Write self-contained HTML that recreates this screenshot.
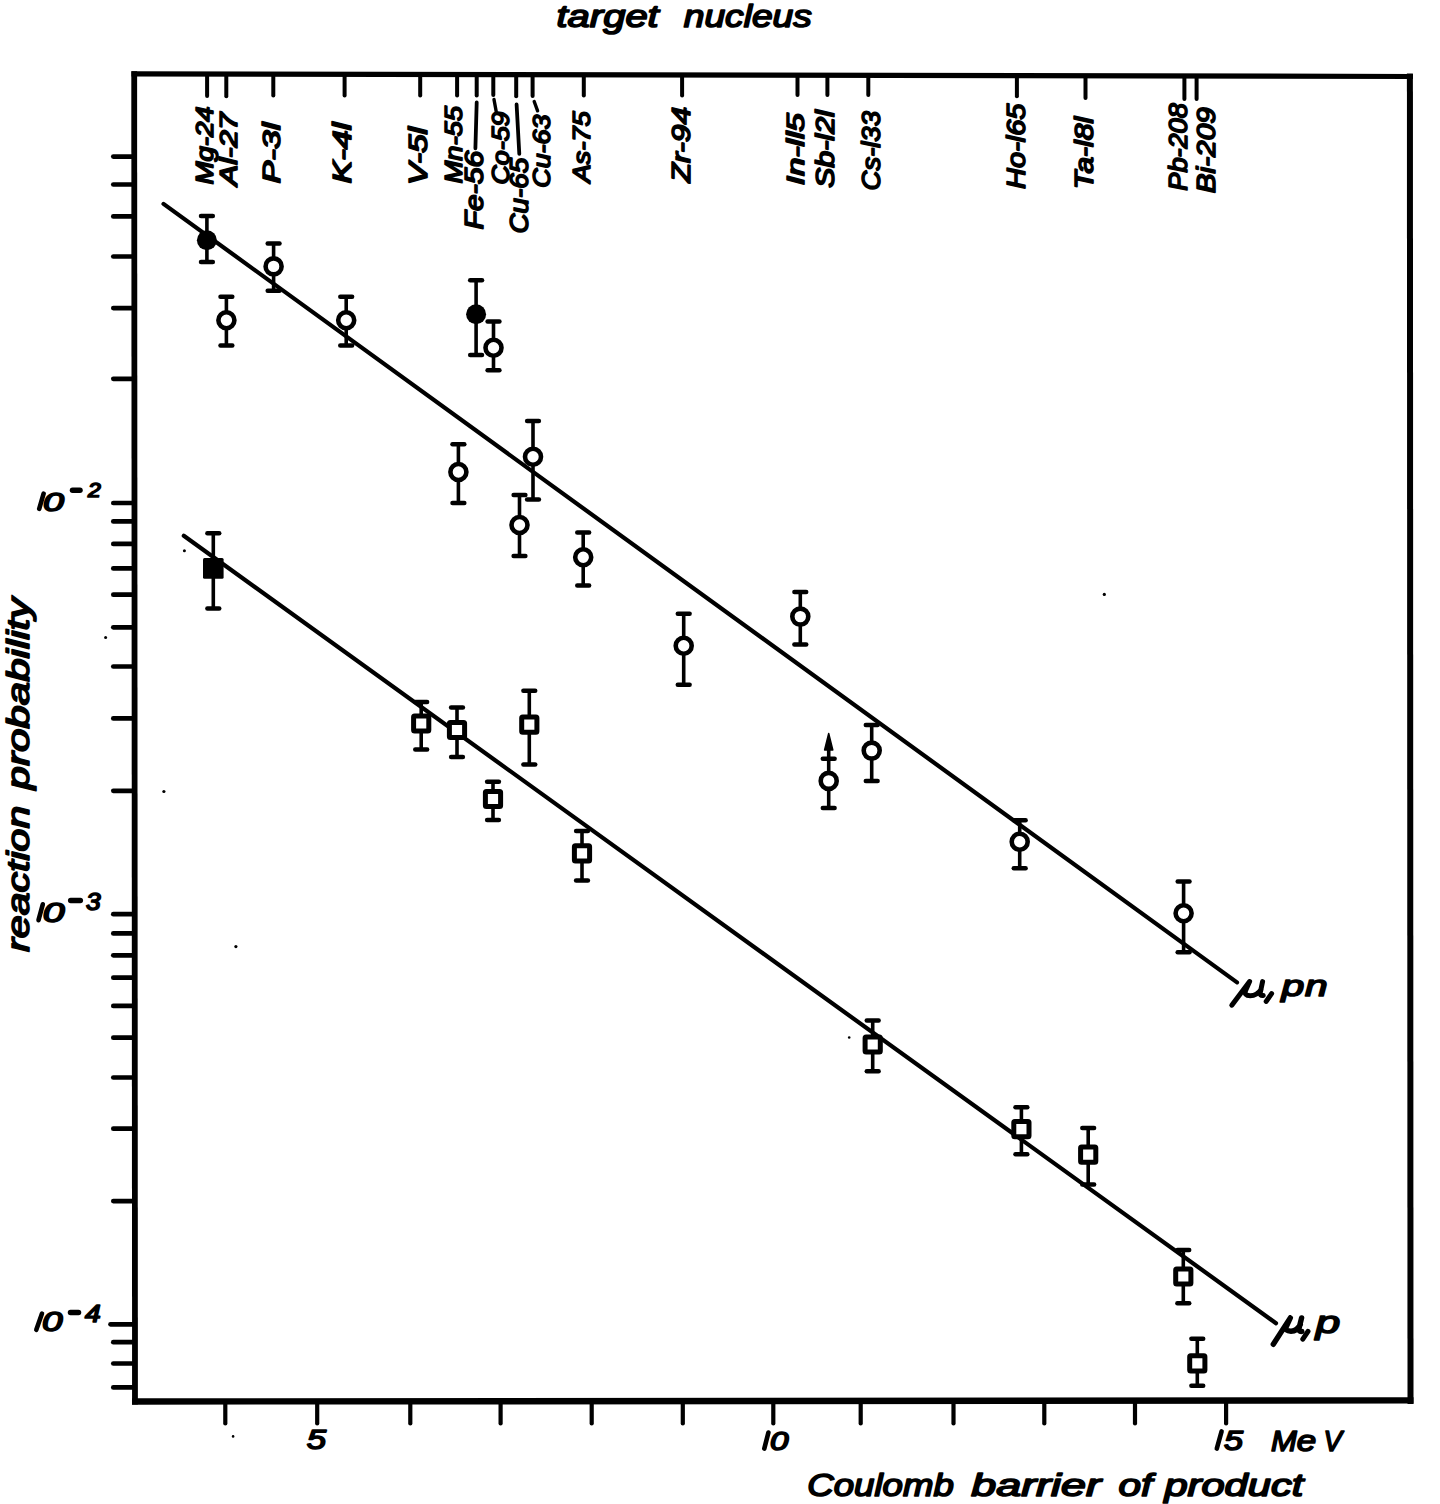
<!DOCTYPE html>
<html><head><meta charset="utf-8"><style>
html,body{margin:0;padding:0;background:#fff;}
svg{display:block;}
</style></head><body>
<svg width="1440" height="1504" viewBox="0 0 1440 1504">
<rect width="1440" height="1504" fill="#fff"/>
<line x1="131.5" y1="73.9" x2="1413" y2="76.5" stroke="#000" stroke-width="5.2"/>
<line x1="1409.9" y1="73.5" x2="1410.5" y2="1404" stroke="#000" stroke-width="6"/>
<line x1="132" y1="1401.5" x2="1413.5" y2="1400.4" stroke="#000" stroke-width="6.4"/>
<line x1="134.2" y1="71.2" x2="135" y2="1404.5" stroke="#000" stroke-width="5.8"/>
<line x1="113.3" y1="156.6" x2="134" y2="156.6" stroke="#000" stroke-width="4.7" stroke-linecap="round"/>
<line x1="113.3" y1="184.5" x2="134" y2="184.5" stroke="#000" stroke-width="4.7" stroke-linecap="round"/>
<line x1="113.3" y1="216.4" x2="134" y2="216.4" stroke="#000" stroke-width="4.7" stroke-linecap="round"/>
<line x1="113.3" y1="256.5" x2="134" y2="256.5" stroke="#000" stroke-width="4.7" stroke-linecap="round"/>
<line x1="113.3" y1="308.1" x2="134" y2="308.1" stroke="#000" stroke-width="4.7" stroke-linecap="round"/>
<line x1="113.3" y1="378.8" x2="134" y2="378.8" stroke="#000" stroke-width="4.7" stroke-linecap="round"/>
<line x1="113.3" y1="503.0" x2="134" y2="503.0" stroke="#000" stroke-width="4.7" stroke-linecap="round"/>
<line x1="113.3" y1="521.4" x2="134" y2="521.4" stroke="#000" stroke-width="4.7" stroke-linecap="round"/>
<line x1="113.3" y1="543.9" x2="134" y2="543.9" stroke="#000" stroke-width="4.7" stroke-linecap="round"/>
<line x1="113.3" y1="568.4" x2="134" y2="568.4" stroke="#000" stroke-width="4.7" stroke-linecap="round"/>
<line x1="113.3" y1="594.7" x2="134" y2="594.7" stroke="#000" stroke-width="4.7" stroke-linecap="round"/>
<line x1="113.3" y1="627.3" x2="134" y2="627.3" stroke="#000" stroke-width="4.7" stroke-linecap="round"/>
<line x1="113.3" y1="666.5" x2="134" y2="666.5" stroke="#000" stroke-width="4.7" stroke-linecap="round"/>
<line x1="113.3" y1="718.4" x2="134" y2="718.4" stroke="#000" stroke-width="4.7" stroke-linecap="round"/>
<line x1="113.3" y1="790.8" x2="134" y2="790.8" stroke="#000" stroke-width="4.7" stroke-linecap="round"/>
<line x1="113.3" y1="914.2" x2="134" y2="914.2" stroke="#000" stroke-width="4.7" stroke-linecap="round"/>
<line x1="113.3" y1="933.4" x2="134" y2="933.4" stroke="#000" stroke-width="4.7" stroke-linecap="round"/>
<line x1="113.3" y1="955.3" x2="134" y2="955.3" stroke="#000" stroke-width="4.7" stroke-linecap="round"/>
<line x1="113.3" y1="977.7" x2="134" y2="977.7" stroke="#000" stroke-width="4.7" stroke-linecap="round"/>
<line x1="113.3" y1="1005.9" x2="134" y2="1005.9" stroke="#000" stroke-width="4.7" stroke-linecap="round"/>
<line x1="113.3" y1="1037.7" x2="134" y2="1037.7" stroke="#000" stroke-width="4.7" stroke-linecap="round"/>
<line x1="113.3" y1="1077.5" x2="134" y2="1077.5" stroke="#000" stroke-width="4.7" stroke-linecap="round"/>
<line x1="113.3" y1="1128.7" x2="134" y2="1128.7" stroke="#000" stroke-width="4.7" stroke-linecap="round"/>
<line x1="113.3" y1="1201.1" x2="134" y2="1201.1" stroke="#000" stroke-width="4.7" stroke-linecap="round"/>
<line x1="110.5" y1="1324.3" x2="134" y2="1324.3" stroke="#000" stroke-width="4.7" stroke-linecap="round"/>
<line x1="113.3" y1="1342.2" x2="134" y2="1342.2" stroke="#000" stroke-width="4.7" stroke-linecap="round"/>
<line x1="113.3" y1="1363.5" x2="134" y2="1363.5" stroke="#000" stroke-width="4.7" stroke-linecap="round"/>
<line x1="113.3" y1="1387.4" x2="134" y2="1387.4" stroke="#000" stroke-width="4.7" stroke-linecap="round"/>
<line x1="225.3" y1="1402" x2="225.3" y2="1423.5" stroke="#000" stroke-width="4.2" stroke-linecap="round"/>
<line x1="317.2" y1="1402" x2="317.2" y2="1423.5" stroke="#000" stroke-width="4.2" stroke-linecap="round"/>
<line x1="410.3" y1="1402" x2="410.3" y2="1423.5" stroke="#000" stroke-width="4.2" stroke-linecap="round"/>
<line x1="500.6" y1="1402" x2="500.6" y2="1423.5" stroke="#000" stroke-width="4.2" stroke-linecap="round"/>
<line x1="591.7" y1="1402" x2="591.7" y2="1423.5" stroke="#000" stroke-width="4.2" stroke-linecap="round"/>
<line x1="682.8" y1="1402" x2="682.8" y2="1423.5" stroke="#000" stroke-width="4.2" stroke-linecap="round"/>
<line x1="773.3" y1="1402" x2="773.3" y2="1423.5" stroke="#000" stroke-width="4.2" stroke-linecap="round"/>
<line x1="860.7" y1="1402" x2="860.7" y2="1423.5" stroke="#000" stroke-width="4.2" stroke-linecap="round"/>
<line x1="953.5" y1="1402" x2="953.5" y2="1423.5" stroke="#000" stroke-width="4.2" stroke-linecap="round"/>
<line x1="1044.3" y1="1402" x2="1044.3" y2="1423.5" stroke="#000" stroke-width="4.2" stroke-linecap="round"/>
<line x1="1135.0" y1="1402" x2="1135.0" y2="1423.5" stroke="#000" stroke-width="4.2" stroke-linecap="round"/>
<line x1="1226.1" y1="1402" x2="1226.1" y2="1423.5" stroke="#000" stroke-width="4.2" stroke-linecap="round"/>
<line x1="207.1" y1="76" x2="207.1" y2="96.0" stroke="#000" stroke-width="4" stroke-linecap="round"/>
<line x1="226.3" y1="76" x2="226.3" y2="96.3" stroke="#000" stroke-width="4" stroke-linecap="round"/>
<line x1="273.3" y1="76" x2="273.3" y2="95.5" stroke="#000" stroke-width="4" stroke-linecap="round"/>
<line x1="344.6" y1="76" x2="344.6" y2="95.5" stroke="#000" stroke-width="4" stroke-linecap="round"/>
<line x1="420.2" y1="76" x2="420.2" y2="95.5" stroke="#000" stroke-width="4" stroke-linecap="round"/>
<line x1="457.1" y1="76" x2="457.1" y2="95.5" stroke="#000" stroke-width="4" stroke-linecap="round"/>
<line x1="476.7" y1="76" x2="476.7" y2="95.6" stroke="#000" stroke-width="4" stroke-linecap="round"/>
<line x1="493.3" y1="76" x2="493.3" y2="94.9" stroke="#000" stroke-width="4" stroke-linecap="round"/>
<line x1="516.2" y1="76" x2="516.2" y2="96.3" stroke="#000" stroke-width="4" stroke-linecap="round"/>
<line x1="532.6" y1="76" x2="532.6" y2="95.9" stroke="#000" stroke-width="4" stroke-linecap="round"/>
<line x1="583.8" y1="76" x2="583.8" y2="95.5" stroke="#000" stroke-width="4" stroke-linecap="round"/>
<line x1="682.1" y1="76" x2="682.1" y2="95.5" stroke="#000" stroke-width="4" stroke-linecap="round"/>
<line x1="797.5" y1="76" x2="797.5" y2="95.0" stroke="#000" stroke-width="4" stroke-linecap="round"/>
<line x1="827.4" y1="76" x2="827.4" y2="95.0" stroke="#000" stroke-width="4" stroke-linecap="round"/>
<line x1="868.3" y1="76" x2="868.3" y2="95.0" stroke="#000" stroke-width="4" stroke-linecap="round"/>
<line x1="1016.9" y1="76" x2="1016.9" y2="96.3" stroke="#000" stroke-width="4" stroke-linecap="round"/>
<line x1="1085.5" y1="76" x2="1085.5" y2="98.0" stroke="#000" stroke-width="4" stroke-linecap="round"/>
<line x1="1184.4" y1="76" x2="1184.4" y2="98.9" stroke="#000" stroke-width="4" stroke-linecap="round"/>
<line x1="1196.6" y1="76" x2="1196.6" y2="98.9" stroke="#000" stroke-width="4" stroke-linecap="round"/>
<line x1="476.7" y1="102.5" x2="475.4" y2="148.3" stroke="#000" stroke-width="3.8" stroke-linecap="round"/>
<line x1="516.6" y1="104.5" x2="519.3" y2="153.8" stroke="#000" stroke-width="3.8" stroke-linecap="round"/>
<line x1="494" y1="99.5" x2="496.2" y2="111.5" stroke="#000" stroke-width="3.4" stroke-linecap="round"/>
<line x1="534.2" y1="101.5" x2="537.6" y2="110.8" stroke="#000" stroke-width="3.4" stroke-linecap="round"/>
<line x1="163.5" y1="203.9" x2="1237" y2="982.4" stroke="#000" stroke-width="4.2" stroke-linecap="round"/>
<line x1="183.8" y1="535.8" x2="1276" y2="1323.2" stroke="#000" stroke-width="4.2" stroke-linecap="round"/>
<line x1="206.9" y1="216.0" x2="206.9" y2="262.0" stroke="#000" stroke-width="3.6" />
<line x1="201.0" y1="216.0" x2="212.8" y2="216.0" stroke="#000" stroke-width="4.5" stroke-linecap="round"/>
<line x1="201.0" y1="262.0" x2="212.8" y2="262.0" stroke="#000" stroke-width="4.5" stroke-linecap="round"/>
<circle cx="206.9" cy="240.3" r="10" fill="#000"/>
<line x1="226.4" y1="296.8" x2="226.4" y2="345.4" stroke="#000" stroke-width="3.6" />
<line x1="220.5" y1="296.8" x2="232.3" y2="296.8" stroke="#000" stroke-width="4.5" stroke-linecap="round"/>
<line x1="220.5" y1="345.4" x2="232.3" y2="345.4" stroke="#000" stroke-width="4.5" stroke-linecap="round"/>
<circle cx="226.4" cy="320.2" r="8" fill="#fff" stroke="#000" stroke-width="4.6"/>
<line x1="273.6" y1="243.5" x2="273.6" y2="290.7" stroke="#000" stroke-width="3.6" />
<line x1="267.7" y1="243.5" x2="279.5" y2="243.5" stroke="#000" stroke-width="4.5" stroke-linecap="round"/>
<line x1="267.7" y1="290.7" x2="279.5" y2="290.7" stroke="#000" stroke-width="4.5" stroke-linecap="round"/>
<circle cx="273.6" cy="266.4" r="8" fill="#fff" stroke="#000" stroke-width="4.6"/>
<line x1="346.2" y1="296.8" x2="346.2" y2="345.4" stroke="#000" stroke-width="3.6" />
<line x1="340.3" y1="296.8" x2="352.1" y2="296.8" stroke="#000" stroke-width="4.5" stroke-linecap="round"/>
<line x1="340.3" y1="345.4" x2="352.1" y2="345.4" stroke="#000" stroke-width="4.5" stroke-linecap="round"/>
<circle cx="346.2" cy="320.2" r="8" fill="#fff" stroke="#000" stroke-width="4.6"/>
<line x1="476.1" y1="280.3" x2="476.1" y2="354.9" stroke="#000" stroke-width="3.6" />
<line x1="470.2" y1="280.3" x2="482.0" y2="280.3" stroke="#000" stroke-width="4.5" stroke-linecap="round"/>
<line x1="470.2" y1="354.9" x2="482.0" y2="354.9" stroke="#000" stroke-width="4.5" stroke-linecap="round"/>
<circle cx="476.1" cy="314.3" r="10" fill="#000"/>
<line x1="493.5" y1="321.5" x2="493.5" y2="370.3" stroke="#000" stroke-width="3.6" />
<line x1="487.6" y1="321.5" x2="499.4" y2="321.5" stroke="#000" stroke-width="4.5" stroke-linecap="round"/>
<line x1="487.6" y1="370.3" x2="499.4" y2="370.3" stroke="#000" stroke-width="4.5" stroke-linecap="round"/>
<circle cx="493.5" cy="347.7" r="8" fill="#fff" stroke="#000" stroke-width="4.6"/>
<line x1="458.4" y1="444.2" x2="458.4" y2="503.0" stroke="#000" stroke-width="3.6" />
<line x1="452.5" y1="444.2" x2="464.3" y2="444.2" stroke="#000" stroke-width="4.5" stroke-linecap="round"/>
<line x1="452.5" y1="503.0" x2="464.3" y2="503.0" stroke="#000" stroke-width="4.5" stroke-linecap="round"/>
<circle cx="458.4" cy="472.0" r="8" fill="#fff" stroke="#000" stroke-width="4.6"/>
<line x1="533.0" y1="421.0" x2="533.0" y2="499.6" stroke="#000" stroke-width="3.6" />
<line x1="527.1" y1="421.0" x2="538.9" y2="421.0" stroke="#000" stroke-width="4.5" stroke-linecap="round"/>
<line x1="527.1" y1="499.6" x2="538.9" y2="499.6" stroke="#000" stroke-width="4.5" stroke-linecap="round"/>
<circle cx="533.0" cy="456.7" r="8" fill="#fff" stroke="#000" stroke-width="4.6"/>
<line x1="519.5" y1="495.1" x2="519.5" y2="556.1" stroke="#000" stroke-width="3.6" />
<line x1="513.6" y1="495.1" x2="525.4" y2="495.1" stroke="#000" stroke-width="4.5" stroke-linecap="round"/>
<line x1="513.6" y1="556.1" x2="525.4" y2="556.1" stroke="#000" stroke-width="4.5" stroke-linecap="round"/>
<circle cx="519.5" cy="525.0" r="8" fill="#fff" stroke="#000" stroke-width="4.6"/>
<line x1="583.2" y1="532.4" x2="583.2" y2="585.5" stroke="#000" stroke-width="3.6" />
<line x1="577.3" y1="532.4" x2="589.1" y2="532.4" stroke="#000" stroke-width="4.5" stroke-linecap="round"/>
<line x1="577.3" y1="585.5" x2="589.1" y2="585.5" stroke="#000" stroke-width="4.5" stroke-linecap="round"/>
<circle cx="583.2" cy="557.3" r="8" fill="#fff" stroke="#000" stroke-width="4.6"/>
<line x1="683.7" y1="613.7" x2="683.7" y2="684.7" stroke="#000" stroke-width="3.6" />
<line x1="677.8" y1="613.7" x2="689.6" y2="613.7" stroke="#000" stroke-width="4.5" stroke-linecap="round"/>
<line x1="677.8" y1="684.7" x2="689.6" y2="684.7" stroke="#000" stroke-width="4.5" stroke-linecap="round"/>
<circle cx="683.7" cy="645.8" r="8" fill="#fff" stroke="#000" stroke-width="4.6"/>
<line x1="800.3" y1="592.0" x2="800.3" y2="644.4" stroke="#000" stroke-width="3.6" />
<line x1="794.4" y1="592.0" x2="806.2" y2="592.0" stroke="#000" stroke-width="4.5" stroke-linecap="round"/>
<line x1="794.4" y1="644.4" x2="806.2" y2="644.4" stroke="#000" stroke-width="4.5" stroke-linecap="round"/>
<circle cx="800.3" cy="616.6" r="8" fill="#fff" stroke="#000" stroke-width="4.6"/>
<line x1="828.7" y1="758.7" x2="828.7" y2="808.0" stroke="#000" stroke-width="3.6" />
<line x1="822.8" y1="758.7" x2="834.6" y2="758.7" stroke="#000" stroke-width="4.5" stroke-linecap="round"/>
<line x1="822.8" y1="808.0" x2="834.6" y2="808.0" stroke="#000" stroke-width="4.5" stroke-linecap="round"/>
<circle cx="828.7" cy="780.9" r="8" fill="#fff" stroke="#000" stroke-width="4.6"/>
<line x1="871.7" y1="724.9" x2="871.7" y2="780.9" stroke="#000" stroke-width="3.6" />
<line x1="865.8" y1="724.9" x2="877.6" y2="724.9" stroke="#000" stroke-width="4.5" stroke-linecap="round"/>
<line x1="865.8" y1="780.9" x2="877.6" y2="780.9" stroke="#000" stroke-width="4.5" stroke-linecap="round"/>
<circle cx="871.7" cy="750.6" r="8" fill="#fff" stroke="#000" stroke-width="4.6"/>
<line x1="1019.7" y1="820.3" x2="1019.7" y2="868.3" stroke="#000" stroke-width="3.6" />
<line x1="1013.8" y1="820.3" x2="1025.6" y2="820.3" stroke="#000" stroke-width="4.5" stroke-linecap="round"/>
<line x1="1013.8" y1="868.3" x2="1025.6" y2="868.3" stroke="#000" stroke-width="4.5" stroke-linecap="round"/>
<circle cx="1019.7" cy="841.7" r="8" fill="#fff" stroke="#000" stroke-width="4.6"/>
<line x1="1183.6" y1="881.4" x2="1183.6" y2="952.2" stroke="#000" stroke-width="3.6" />
<line x1="1177.7" y1="881.4" x2="1189.5" y2="881.4" stroke="#000" stroke-width="4.5" stroke-linecap="round"/>
<line x1="1177.7" y1="952.2" x2="1189.5" y2="952.2" stroke="#000" stroke-width="4.5" stroke-linecap="round"/>
<circle cx="1183.6" cy="913.3" r="8" fill="#fff" stroke="#000" stroke-width="4.6"/>
<line x1="828.7" y1="758" x2="828.7" y2="746" stroke="#000" stroke-width="3.6"/>
<polygon points="828.7,733.5 824.6,750 832.8,750" fill="#000" stroke="#000" stroke-width="1.5" stroke-linejoin="round"/>
<line x1="213.3" y1="533.3" x2="213.3" y2="608.6" stroke="#000" stroke-width="3.6" />
<line x1="207.4" y1="533.3" x2="219.2" y2="533.3" stroke="#000" stroke-width="4.5" stroke-linecap="round"/>
<line x1="207.4" y1="608.6" x2="219.2" y2="608.6" stroke="#000" stroke-width="4.5" stroke-linecap="round"/>
<rect x="203.0" y="557.9" width="20.6" height="20.8" fill="#000" rx="1.5"/>
<line x1="421.2" y1="702.0" x2="421.2" y2="749.5" stroke="#000" stroke-width="3.6" />
<line x1="415.3" y1="702.0" x2="427.1" y2="702.0" stroke="#000" stroke-width="4.5" stroke-linecap="round"/>
<line x1="415.3" y1="749.5" x2="427.1" y2="749.5" stroke="#000" stroke-width="4.5" stroke-linecap="round"/>
<rect x="413.6" y="715.9" width="15.2" height="15.2" fill="#fff" stroke="#000" stroke-width="5" rx="1"/>
<line x1="457.0" y1="707.5" x2="457.0" y2="757.0" stroke="#000" stroke-width="3.6" />
<line x1="451.1" y1="707.5" x2="462.9" y2="707.5" stroke="#000" stroke-width="4.5" stroke-linecap="round"/>
<line x1="451.1" y1="757.0" x2="462.9" y2="757.0" stroke="#000" stroke-width="4.5" stroke-linecap="round"/>
<rect x="449.4" y="722.4" width="15.2" height="15.2" fill="#fff" stroke="#000" stroke-width="5" rx="1"/>
<line x1="493.0" y1="781.8" x2="493.0" y2="820.1" stroke="#000" stroke-width="3.6" />
<line x1="487.1" y1="781.8" x2="498.9" y2="781.8" stroke="#000" stroke-width="4.5" stroke-linecap="round"/>
<line x1="487.1" y1="820.1" x2="498.9" y2="820.1" stroke="#000" stroke-width="4.5" stroke-linecap="round"/>
<rect x="485.4" y="791.4" width="15.2" height="15.2" fill="#fff" stroke="#000" stroke-width="5" rx="1"/>
<line x1="529.3" y1="690.8" x2="529.3" y2="764.6" stroke="#000" stroke-width="3.6" />
<line x1="523.4" y1="690.8" x2="535.2" y2="690.8" stroke="#000" stroke-width="4.5" stroke-linecap="round"/>
<line x1="523.4" y1="764.6" x2="535.2" y2="764.6" stroke="#000" stroke-width="4.5" stroke-linecap="round"/>
<rect x="521.7" y="717.1" width="15.2" height="15.2" fill="#fff" stroke="#000" stroke-width="5" rx="1"/>
<line x1="582.0" y1="831.0" x2="582.0" y2="880.5" stroke="#000" stroke-width="3.6" />
<line x1="576.1" y1="831.0" x2="587.9" y2="831.0" stroke="#000" stroke-width="4.5" stroke-linecap="round"/>
<line x1="576.1" y1="880.5" x2="587.9" y2="880.5" stroke="#000" stroke-width="4.5" stroke-linecap="round"/>
<rect x="574.4" y="845.7" width="15.2" height="15.2" fill="#fff" stroke="#000" stroke-width="5" rx="1"/>
<line x1="872.7" y1="1020.4" x2="872.7" y2="1071.2" stroke="#000" stroke-width="3.6" />
<line x1="866.8" y1="1020.4" x2="878.6" y2="1020.4" stroke="#000" stroke-width="4.5" stroke-linecap="round"/>
<line x1="866.8" y1="1071.2" x2="878.6" y2="1071.2" stroke="#000" stroke-width="4.5" stroke-linecap="round"/>
<rect x="865.1" y="1036.9" width="15.2" height="15.2" fill="#fff" stroke="#000" stroke-width="5" rx="1"/>
<line x1="1021.4" y1="1107.3" x2="1021.4" y2="1154.2" stroke="#000" stroke-width="3.6" />
<line x1="1015.5" y1="1107.3" x2="1027.3" y2="1107.3" stroke="#000" stroke-width="4.5" stroke-linecap="round"/>
<line x1="1015.5" y1="1154.2" x2="1027.3" y2="1154.2" stroke="#000" stroke-width="4.5" stroke-linecap="round"/>
<rect x="1013.8" y="1121.6" width="15.2" height="15.2" fill="#fff" stroke="#000" stroke-width="5" rx="1"/>
<line x1="1088.2" y1="1128.1" x2="1088.2" y2="1184.4" stroke="#000" stroke-width="3.6" />
<line x1="1082.3" y1="1128.1" x2="1094.1" y2="1128.1" stroke="#000" stroke-width="4.5" stroke-linecap="round"/>
<line x1="1082.3" y1="1184.4" x2="1094.1" y2="1184.4" stroke="#000" stroke-width="4.5" stroke-linecap="round"/>
<rect x="1080.6" y="1147.1" width="15.2" height="15.2" fill="#fff" stroke="#000" stroke-width="5" rx="1"/>
<line x1="1183.3" y1="1250.0" x2="1183.3" y2="1303.3" stroke="#000" stroke-width="3.6" />
<line x1="1177.4" y1="1250.0" x2="1189.2" y2="1250.0" stroke="#000" stroke-width="4.5" stroke-linecap="round"/>
<line x1="1177.4" y1="1303.3" x2="1189.2" y2="1303.3" stroke="#000" stroke-width="4.5" stroke-linecap="round"/>
<rect x="1175.7" y="1268.9" width="15.2" height="15.2" fill="#fff" stroke="#000" stroke-width="5" rx="1"/>
<line x1="1197.3" y1="1338.7" x2="1197.3" y2="1385.8" stroke="#000" stroke-width="3.6" />
<line x1="1191.4" y1="1338.7" x2="1203.2" y2="1338.7" stroke="#000" stroke-width="4.5" stroke-linecap="round"/>
<line x1="1191.4" y1="1385.8" x2="1203.2" y2="1385.8" stroke="#000" stroke-width="4.5" stroke-linecap="round"/>
<rect x="1189.7" y="1355.7" width="15.2" height="15.2" fill="#fff" stroke="#000" stroke-width="5" rx="1"/>
<text transform="translate(556.5,27.1)" font-family="Liberation Sans" font-style="italic" stroke-linejoin="round" font-size="31" textLength="102.23" lengthAdjust="spacingAndGlyphs" stroke="#000" stroke-width="1.6">target</text>
<text transform="translate(683.75,27.1)" font-family="Liberation Sans" font-style="italic" stroke-linejoin="round" font-size="31" textLength="128.12" lengthAdjust="spacingAndGlyphs" stroke="#000" stroke-width="1.6">nucleus</text>
<text transform="translate(807.3,1495.6)" font-family="Liberation Sans" font-style="italic" stroke-linejoin="round" font-size="30.5" textLength="146.46" lengthAdjust="spacingAndGlyphs" stroke="#000" stroke-width="1.6">Coulomb</text>
<text transform="translate(971.3,1495.6)" font-family="Liberation Sans" font-style="italic" stroke-linejoin="round" font-size="30.5" textLength="129.56" lengthAdjust="spacingAndGlyphs" stroke="#000" stroke-width="1.6">barrier</text>
<text transform="translate(1118.5,1495.6)" font-family="Liberation Sans" font-style="italic" stroke-linejoin="round" font-size="30.5" textLength="33.82" lengthAdjust="spacingAndGlyphs" stroke="#000" stroke-width="1.6">of</text>
<text transform="translate(1164.4,1495.6)" font-family="Liberation Sans" font-style="italic" stroke-linejoin="round" font-size="30.5" textLength="138.87" lengthAdjust="spacingAndGlyphs" stroke="#000" stroke-width="1.6">product</text>
<text transform="translate(306.7,1449.2)" font-family="Liberation Sans" font-style="italic" stroke-linejoin="round" font-size="28.5" textLength="19.34" lengthAdjust="spacingAndGlyphs" stroke="#000" stroke-width="1.6">5</text>
<text transform="translate(770.0,1449.6)" font-family="Liberation Sans" font-style="italic" stroke-linejoin="round" font-size="26.5" textLength="18.52" lengthAdjust="spacingAndGlyphs" stroke="#000" stroke-width="1.6">0</text>
<text transform="translate(1223.9,1450.3)" font-family="Liberation Sans" font-style="italic" stroke-linejoin="round" font-size="28" textLength="19.0" lengthAdjust="spacingAndGlyphs" stroke="#000" stroke-width="1.6">5</text>
<text transform="translate(1271.1,1450.7)" font-family="Liberation Sans" font-style="italic" stroke-linejoin="round" font-size="29.5" textLength="25.77" lengthAdjust="spacingAndGlyphs" stroke="#000" stroke-width="1.6">M</text>
<text transform="translate(1296.7,1450.7)" font-family="Liberation Sans" font-style="italic" stroke-linejoin="round" font-size="29.5" textLength="19.43" lengthAdjust="spacingAndGlyphs" stroke="#000" stroke-width="1.6">e</text>
<text transform="translate(1323.6,1450.7)" font-family="Liberation Sans" font-style="italic" stroke-linejoin="round" font-size="29.5" textLength="18.42" lengthAdjust="spacingAndGlyphs" stroke="#000" stroke-width="1.6">V</text>
<text transform="translate(1281.6,996.0)" font-family="Liberation Sans" font-style="italic" stroke-linejoin="round" font-size="30" textLength="22.74" lengthAdjust="spacingAndGlyphs" stroke="#000" stroke-width="1.6">p</text>
<text transform="translate(1305.0,996.0)" font-family="Liberation Sans" font-style="italic" stroke-linejoin="round" font-size="30" textLength="22.61" lengthAdjust="spacingAndGlyphs" stroke="#000" stroke-width="1.6">n</text>
<text transform="translate(1315.75,1332.7)" font-family="Liberation Sans" font-style="italic" stroke-linejoin="round" font-size="31" textLength="24.45" lengthAdjust="spacingAndGlyphs" stroke="#000" stroke-width="1.6">p</text>
<text transform="translate(43.0,510.9)" font-family="Liberation Sans" font-style="italic" stroke-linejoin="round" font-size="26.5" textLength="20.97" lengthAdjust="spacingAndGlyphs" stroke="#000" stroke-width="1.6">0</text>
<text transform="translate(88.0,497.0)" font-family="Liberation Sans" font-style="italic" stroke-linejoin="round" font-size="20" textLength="12.73" lengthAdjust="spacingAndGlyphs" stroke="#000" stroke-width="1.6">2</text>
<text transform="translate(42.75,922.2)" font-family="Liberation Sans" font-style="italic" stroke-linejoin="round" font-size="27" textLength="21.82" lengthAdjust="spacingAndGlyphs" stroke="#000" stroke-width="1.6">0</text>
<text transform="translate(85.9,910.2)" font-family="Liberation Sans" font-style="italic" stroke-linejoin="round" font-size="23" textLength="14.57" lengthAdjust="spacingAndGlyphs" stroke="#000" stroke-width="1.6">3</text>
<text transform="translate(41.9,1330.9)" font-family="Liberation Sans" font-style="italic" stroke-linejoin="round" font-size="27" textLength="20.54" lengthAdjust="spacingAndGlyphs" stroke="#000" stroke-width="1.6">0</text>
<text transform="translate(84.9,1321.8)" font-family="Liberation Sans" font-style="italic" stroke-linejoin="round" font-size="23" textLength="15.64" lengthAdjust="spacingAndGlyphs" stroke="#000" stroke-width="1.6">4</text>
<text transform="translate(29.2,951.9) rotate(-90)" font-family="Liberation Sans" font-style="italic" stroke-linejoin="round" font-size="31" textLength="146.25" lengthAdjust="spacingAndGlyphs" stroke="#000" stroke-width="1.6">reaction</text>
<text transform="translate(29.2,789.5) rotate(-90)" font-family="Liberation Sans" font-style="italic" stroke-linejoin="round" font-size="31" textLength="191.88" lengthAdjust="spacingAndGlyphs" stroke="#000" stroke-width="1.6">probability</text>
<text transform="translate(213.1,184.6) rotate(-90)" font-family="Liberation Sans" font-style="italic" stroke-linejoin="round" font-size="23.5" textLength="78.3" lengthAdjust="spacingAndGlyphs" stroke="#000" stroke-width="1.6">Mg-24</text>
<text transform="translate(236.6,185.7) rotate(-90)" font-family="Liberation Sans" font-style="italic" stroke-linejoin="round" font-size="24.2" textLength="72.97" lengthAdjust="spacingAndGlyphs" stroke="#000" stroke-width="1.6">Al-27</text>
<text transform="translate(280.2,183.5) rotate(-90)" font-family="Liberation Sans" font-style="italic" stroke-linejoin="round" font-size="23.9" textLength="60.86" lengthAdjust="spacingAndGlyphs" stroke="#000" stroke-width="1.6">P-3l</text>
<text transform="translate(350.6,183.5) rotate(-90)" font-family="Liberation Sans" font-style="italic" stroke-linejoin="round" font-size="24.9" textLength="60.86" lengthAdjust="spacingAndGlyphs" stroke="#000" stroke-width="1.6">K-4l</text>
<text transform="translate(427.2,185.0) rotate(-90)" font-family="Liberation Sans" font-style="italic" stroke-linejoin="round" font-size="25.7" textLength="58.0" lengthAdjust="spacingAndGlyphs" stroke="#000" stroke-width="1.6">V-5l</text>
<text transform="translate(462.0,183.5) rotate(-90)" font-family="Liberation Sans" font-style="italic" stroke-linejoin="round" font-size="23.5" textLength="77.32" lengthAdjust="spacingAndGlyphs" stroke="#000" stroke-width="1.6">Mn-55</text>
<text transform="translate(483.3,229.4) rotate(-90)" font-family="Liberation Sans" font-style="italic" stroke-linejoin="round" font-size="25.3" textLength="78.61" lengthAdjust="spacingAndGlyphs" stroke="#000" stroke-width="1.6">Fe-56</text>
<text transform="translate(508.9,184.5) rotate(-90)" font-family="Liberation Sans" font-style="italic" stroke-linejoin="round" font-size="24.7" textLength="73.03" lengthAdjust="spacingAndGlyphs" stroke="#000" stroke-width="1.6">Co-59</text>
<text transform="translate(528.3,233.5) rotate(-90)" font-family="Liberation Sans" font-style="italic" stroke-linejoin="round" font-size="25.6" textLength="75.67" lengthAdjust="spacingAndGlyphs" stroke="#000" stroke-width="1.6">Cu-65</text>
<text transform="translate(549.5,187.7) rotate(-90)" font-family="Liberation Sans" font-style="italic" stroke-linejoin="round" font-size="23.5" textLength="73.12" lengthAdjust="spacingAndGlyphs" stroke="#000" stroke-width="1.6">Cu-63</text>
<text transform="translate(590.2,182.6) rotate(-90)" font-family="Liberation Sans" font-style="italic" stroke-linejoin="round" font-size="23.5" textLength="71.31" lengthAdjust="spacingAndGlyphs" stroke="#000" stroke-width="1.6">As-75</text>
<text transform="translate(690.2,182.6) rotate(-90)" font-family="Liberation Sans" font-style="italic" stroke-linejoin="round" font-size="26.0" textLength="75.79" lengthAdjust="spacingAndGlyphs" stroke="#000" stroke-width="1.6">Zr-94</text>
<text transform="translate(803.8,185.3) rotate(-90)" font-family="Liberation Sans" font-style="italic" stroke-linejoin="round" font-size="23.5" textLength="72.13" lengthAdjust="spacingAndGlyphs" stroke="#000" stroke-width="1.6">In-ll5</text>
<text transform="translate(834.4,188.0) rotate(-90)" font-family="Liberation Sans" font-style="italic" stroke-linejoin="round" font-size="25.1" textLength="77.82" lengthAdjust="spacingAndGlyphs" stroke="#000" stroke-width="1.6">Sb-l2l</text>
<text transform="translate(879.5,190.4) rotate(-90)" font-family="Liberation Sans" font-style="italic" stroke-linejoin="round" font-size="26.0" textLength="79.3" lengthAdjust="spacingAndGlyphs" stroke="#000" stroke-width="1.6">Cs-l33</text>
<text transform="translate(1025.2,188.9) rotate(-90)" font-family="Liberation Sans" font-style="italic" stroke-linejoin="round" font-size="26.0" textLength="85.37" lengthAdjust="spacingAndGlyphs" stroke="#000" stroke-width="1.6">Ho-l65</text>
<text transform="translate(1092.9,189.2) rotate(-90)" font-family="Liberation Sans" font-style="italic" stroke-linejoin="round" font-size="25.0" textLength="72.31" lengthAdjust="spacingAndGlyphs" stroke="#000" stroke-width="1.6">Ta-l8l</text>
<text transform="translate(1186.7,190.7) rotate(-90)" font-family="Liberation Sans" font-style="italic" stroke-linejoin="round" font-size="25.0" textLength="87.44" lengthAdjust="spacingAndGlyphs" stroke="#000" stroke-width="1.6">Pb-208</text>
<text transform="translate(1215.3,193.3) rotate(-90)" font-family="Liberation Sans" font-style="italic" stroke-linejoin="round" font-size="26.0" textLength="86.07" lengthAdjust="spacingAndGlyphs" stroke="#000" stroke-width="1.6">Bi-209</text>
<path d="M1231.8,1005.2 L1249.6,981.6 M1249.6,981.6 L1245.6,990.5 Q1243.8,995.8 1250.2,995.8 Q1257,995.8 1261,989.5 M1262.6,981.6 L1260.3,992.5 Q1259.6,995.8 1263.2,995.4" fill="none" stroke="#000" stroke-width="5" stroke-linecap="round" stroke-linejoin="round"/>
<path d="M1273.3,1344.3 L1290.3,1317.9 M1290.3,1317.9 L1286.2,1326.8 Q1284.6,1331.2 1291,1331.2 Q1297.2,1331.2 1300.3,1324.5 M1301.6,1317.9 L1299.1,1328 Q1298.5,1331.8 1301.8,1331.4" fill="none" stroke="#000" stroke-width="5.4" stroke-linecap="round" stroke-linejoin="round"/>
<path d="M1271.6,993.6 L1266.2,1001.4 M1308,1331.4 L1302.8,1339.2" fill="none" stroke="#000" stroke-width="5" stroke-linecap="round"/>
<line x1="39.2" y1="508.8" x2="43.6" y2="493.6" stroke="#000" stroke-width="4.6" stroke-linecap="round"/>
<line x1="38.5" y1="920.2" x2="42.8" y2="904.3" stroke="#000" stroke-width="4.6" stroke-linecap="round"/>
<line x1="36.3" y1="1329.8" x2="42.0" y2="1313.6" stroke="#000" stroke-width="4.6" stroke-linecap="round"/>
<line x1="764.3" y1="1448.6" x2="768.4" y2="1432.6" stroke="#000" stroke-width="4.6" stroke-linecap="round"/>
<line x1="1216.8" y1="1448.6" x2="1221.6" y2="1431.4" stroke="#000" stroke-width="4.6" stroke-linecap="round"/>
<line x1="72.5" y1="490.2" x2="80.0" y2="490.2" stroke="#000" stroke-width="5.5" stroke-linecap="round"/>
<line x1="70.7" y1="900.6" x2="80.3" y2="900.6" stroke="#000" stroke-width="5.5" stroke-linecap="round"/>
<line x1="70.5" y1="1312.6" x2="78.5" y2="1312.6" stroke="#000" stroke-width="5.5" stroke-linecap="round"/>
<circle cx="105.6" cy="637.5" r="1.5" fill="#000"/>
<circle cx="184.4" cy="550.7" r="1.5" fill="#000"/>
<circle cx="849.2" cy="1037.5" r="1.3" fill="#000"/>
<circle cx="1104.3" cy="594.4" r="1.6" fill="#000"/>
<circle cx="233.1" cy="1436.4" r="1.3" fill="#000"/>
<circle cx="163.9" cy="791.5" r="1.6" fill="#000"/>
<circle cx="235.9" cy="946.6" r="1.6" fill="#000"/>
</svg>
</body></html>
